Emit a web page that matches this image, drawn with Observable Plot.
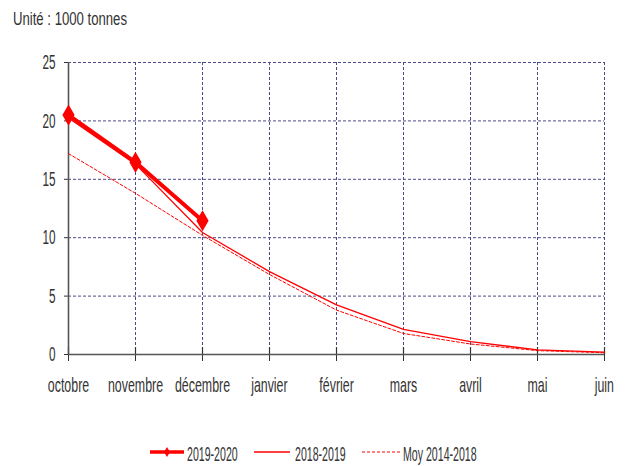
<!DOCTYPE html>
<html><head><meta charset="utf-8">
<script src="https://cdn.jsdelivr.net/npm/d3@7"></script>
<script src="https://cdn.jsdelivr.net/npm/@observablehq/plot@0.6"></script>
<style>
body{margin:0;background:#fff;font-family:"Liberation Sans",Arial,sans-serif;color:#333;}
#wrap{position:relative;width:629px;height:466px;overflow:hidden;}
#title{position:absolute;left:13px;top:10px;font-size:18px;line-height:18px;white-space:nowrap;transform:scaleX(0.73);transform-origin:left center;}
#chart{position:absolute;left:0;top:40px;}
.lg{position:absolute;top:444px;font-size:20px;line-height:20px;white-space:nowrap;transform:scaleX(0.53);transform-origin:left center;}
.sw{position:absolute;top:444px;}
</style></head><body>
<div id="wrap">
<div id="title"></div>
<div id="chart"></div>
<div id="legend"></div>
</div>
<script>
const unitLabel = "Unité : 1000 tonnes";
const months = ["octobre","novembre","décembre","janvier","février","mars","avril","mai","juin"];
const s2019_2020 = [20.5, 16.45, 11.45];
const s2018_2019 = [20.25, 16.3, 10.45, 7.1, 4.25, 2.15, 1.1, 0.4, 0.2];
const sMoy = [17.2, 13.8, 10.2, 6.85, 3.8, 1.8, 0.9, 0.33, 0.15];
const yTicks = [0, 5, 10, 15, 20, 25];
const legendLabels = ["2019-2020", "2018-2019", "Moy 2014-2018"];

const rows = vals => vals.map((v, i) => ({month: months[i], value: v}));
const r1 = rows(s2019_2020), r2 = rows(s2018_2019), r3 = rows(sMoy);

document.getElementById("title").textContent = unitLabel;

const gridStyle = {stroke: "#4a4a8c", strokeOpacity: 1, strokeWidth: 1, strokeDasharray: "3,2"};
const plot = Plot.plot({
  width: 629, height: 364,
  marginLeft: 68, marginRight: 25, marginTop: 22, marginBottom: 50,
  style: {background: "transparent", color: "#333"},
  x: {type: "point", domain: months, padding: 0, label: null, tickSize: 7, tickPadding: 16},
  y: {domain: [0, 25], ticks: yTicks, label: null, tickSize: 4, tickPadding: 9},
  marks: [
    Plot.ruleX(months.slice(1), gridStyle),
    Plot.ruleY(yTicks.slice(1), gridStyle),
    Plot.ruleX(months, {y1: 0, y2: 0.6, stroke: "#333", strokeWidth: 1.2}),
    Plot.ruleX([months[0]], {stroke: "#555", strokeWidth: 1.6}),
    Plot.ruleY([0], {stroke: "#555", strokeWidth: 1.6}),
    Plot.line(r3, {x: "month", y: "value", stroke: "#ff0000", strokeWidth: 1, strokeDasharray: "3,2"}),
    Plot.line(r2, {x: "month", y: "value", stroke: "#ff0000", strokeWidth: 1.3}),
    Plot.line(r1, {x: "month", y: "value", stroke: "#ff0000", strokeWidth: 4}),
    Plot.dot(r1, {x: "month", y: "value", symbol: "diamond", r: 5.5, fill: "#ff0000", stroke: "#ff0000"})
  ]
});
document.getElementById("chart").appendChild(plot);

// style + condense axis labels
plot.querySelectorAll("text").forEach(t => {
  const holder = t.closest("[aria-label]");
  const lab = holder ? holder.getAttribute("aria-label") : "";
  let fs, k, anchor;
  if (lab.startsWith("x-axis")) { fs = 20; k = 0.62; anchor = "middle"; }
  else if (lab.startsWith("y-axis")) { fs = 21; k = 0.56; anchor = "end"; }
  else return;
  t.style.fontSize = fs + "px";
  t.style.fill = "#333";
  t.style.fontFamily = '"Liberation Sans", Arial, sans-serif';
  const b = t.getBBox();
  const ax = anchor === "middle" ? b.x + b.width / 2 : b.x + b.width;
  const old = t.getAttribute("transform") || "";
  t.setAttribute("transform", `${old} translate(${ax},0) scale(${k},1) translate(${-ax},0)`);
});

// legend
const legend = document.getElementById("legend");
const items = [
  {sw: 150, w: 34, tx: 187, kind: "thick"},
  {sw: 254, w: 36, tx: 295, kind: "thin"},
  {sw: 362, w: 38, tx: 403, kind: "dash"}
];
items.forEach((it, i) => {
  const svg = d3.create("svg").attr("class", "sw").attr("width", it.w).attr("height", 16)
    .style("left", it.sw + "px");
  const line = svg.append("line").attr("x1", 0).attr("x2", it.w).attr("y1", 8).attr("y2", 8).attr("stroke", "#ff0000");
  if (it.kind === "thick") {
    line.attr("stroke-width", 3.5);
    svg.append("path").attr("d", d3.symbol(d3.symbolDiamond, 30)()).attr("transform", `translate(${it.w/2},8)`).attr("fill", "#ff0000");
  } else if (it.kind === "thin") line.attr("stroke-width", 1.3);
  else line.attr("stroke-width", 1).attr("stroke-dasharray", "3,2");
  legend.appendChild(svg.node());
  const sp = document.createElement("span");
  sp.className = "lg";
  sp.style.left = it.tx + "px";
  sp.textContent = legendLabels[i];
  legend.appendChild(sp);
});
</script>
</body></html>
